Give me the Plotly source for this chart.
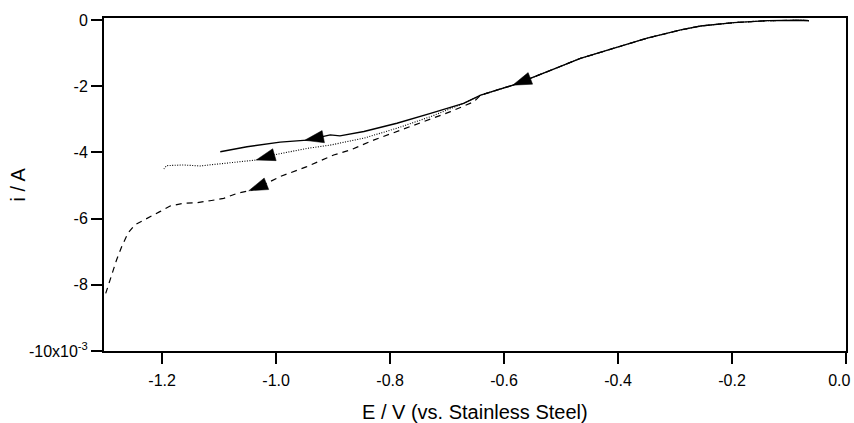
import numpy as np
import plotly.graph_objects as go

# Common initial sweep (E in V, i in mA)
common_E = [-0.065, -0.079, -0.137, -0.197, -0.255, -0.290, -0.349, -0.407, -0.466, -0.524, -0.583, -0.641]
common_i = [-0.02, -0.01, -0.02, -0.08, -0.18, -0.30, -0.55, -0.85, -1.16, -1.56, -1.96, -2.27]

solid_E = [-0.671, -0.729, -0.788, -0.846, -0.888, -0.905, -0.946, -0.993, -1.051, -1.098]
solid_i = [-2.52, -2.82, -3.12, -3.37, -3.50, -3.47, -3.63, -3.69, -3.83, -3.98]

dotted_E = [-0.671, -0.729, -0.788, -0.846, -0.893, -0.905, -0.946, -0.993, -1.005, -1.035,
            -1.063, -1.098, -1.134, -1.163, -1.192, -1.197]
dotted_i = [-2.52, -2.92, -3.27, -3.57, -3.73, -3.78, -3.88, -4.03, -4.08, -4.23,
            -4.28, -4.33, -4.41, -4.38, -4.40, -4.50]

dashed_E = [-0.653, -0.694, -0.741, -0.788, -0.829, -0.870, -0.899, -0.946, -0.993, -1.016,
            -1.043, -1.069, -1.092, -1.116, -1.139, -1.163, -1.186, -1.204, -1.227, -1.248,
            -1.260, -1.271, -1.280, -1.289, -1.299]
dashed_i = [-2.47, -2.77, -3.07, -3.37, -3.63, -3.93, -4.08, -4.43, -4.73, -4.93,
            -5.14, -5.24, -5.39, -5.46, -5.52, -5.54, -5.62, -5.79, -5.99, -6.19,
            -6.44, -6.85, -7.25, -7.76, -8.26]

# Arrow (tail E, tip E) for each curve
arrow_common = (-0.565, -0.585)
arrow_solid = (-0.930, -0.950)
arrow_dotted = (-1.015, -1.035)
arrow_dashed = (-1.028, -1.048)

ytick_vals = [0, -2e-3, -4e-3, -6e-3, -8e-3, -10e-3]
ytick_text = ["0", "-2", "-4", "-6", "-8", "-10x10<sup>-3</sup>"]
xtick_vals = [-1.2, -1.0, -0.8, -0.6, -0.4, -0.2, 0.0]
xtick_text = ["-1.2", "-1.0", "-0.8", "-0.6", "-0.4", "-0.2", "0.0\u00a0\u00a0\u00a0"]

FONT = "Liberation Sans, Arial, Helvetica, sans-serif"


def full(branch_E, branch_i):
    E = common_E + branch_E
    i = [v * 1e-3 for v in common_i + branch_i]
    return E, i


def interp(E, i, e):
    Ea = np.array(E)[::-1]
    ia = np.array(i)[::-1]
    return float(np.interp(e, Ea, ia))


fig = go.Figure()
sE, si = full(solid_E, solid_i)
dE, di = full(dotted_E, dotted_i)
aE, ai = full(dashed_E, dashed_i)

fig.add_trace(go.Scatter(x=aE, y=ai, mode="lines", line=dict(color="black", width=1.2, dash="6px,5px"), showlegend=False))
fig.add_trace(go.Scatter(x=dE, y=di, mode="lines", line=dict(color="black", width=1.1, dash="1px,1.5px"), showlegend=False))
fig.add_trace(go.Scatter(x=sE, y=si, mode="lines", line=dict(color="black", width=1.4), showlegend=False))

for (tail, tip), (E, i) in [(arrow_common, (sE, si)), (arrow_solid, (sE, si)),
                            (arrow_dotted, (dE, di)), (arrow_dashed, (aE, ai))]:
    fig.add_trace(go.Scatter(
        x=[tail, tip], y=[interp(E, i, tail), interp(E, i, tip)], mode="markers",
        marker=dict(symbol="arrow", size=[0, 20], color="black", angleref="previous",
                    opacity=1, line=dict(width=0.5, color="black")),
        showlegend=False, hoverinfo="skip"))

fig.add_annotation(x=0, y=0.5, xref="paper", yref="paper", xshift=-87, text="i / A",
                   showarrow=False, textangle=-90, xanchor="center", yanchor="middle",
                   font=dict(family=FONT, size=20, color="black"))
fig.add_annotation(x=0.5, y=0, xref="paper", yref="paper", yshift=-61,
                   text="E / V (vs. Stainless Steel)", showarrow=False,
                   xanchor="center", yanchor="middle",
                   font=dict(family=FONT, size=20, color="black"))

fig.update_xaxes(range=[-1.302, 0.0], tickvals=xtick_vals, ticktext=xtick_text,
                 showline=True, linecolor="black", linewidth=2, mirror=True,
                 ticks="outside", ticklen=11, tickwidth=2, tickcolor="black",
                 showgrid=False, zeroline=False, automargin=False,
                 ticklabeloverflow="allow", ticklabelstandoff=3,
                 tickfont=dict(family=FONT, size=16, color="black"))
fig.update_yaxes(range=[-10e-3, 0.00006], tickvals=ytick_vals, ticktext=ytick_text,
                 showline=True, linecolor="black", linewidth=2, mirror=True,
                 ticks="outside", ticklen=11, tickwidth=2, tickcolor="black",
                 showgrid=False, zeroline=False, automargin=False,
                 tickfont=dict(family=FONT, size=16, color="black"))

fig.update_layout(width=854, height=423, margin=dict(l=104, r=8, t=18, b=72),
                  plot_bgcolor="white", paper_bgcolor="white", showlegend=False)

fig.write_html("out.html", config={"displayModeBar": False},
               post_script="document.body.style.margin='0';document.body.style.overflow='hidden';")
